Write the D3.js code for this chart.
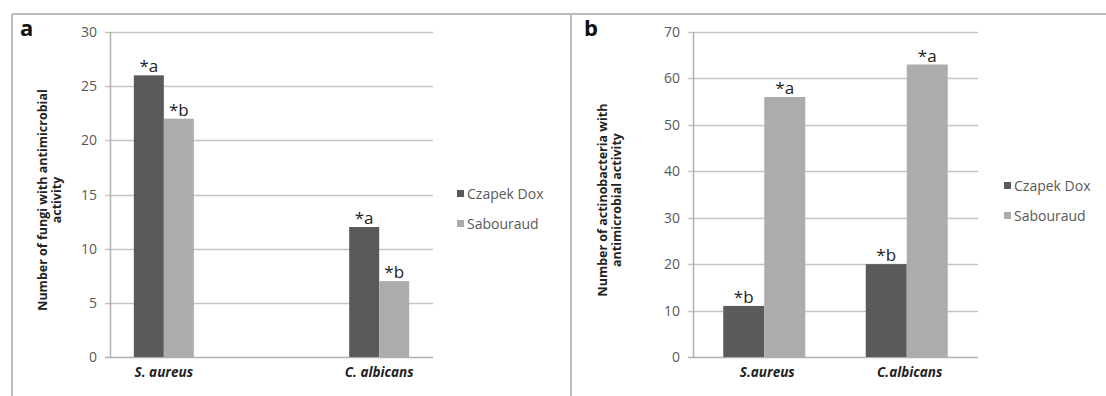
<!DOCTYPE html>
<html>
<head>
<meta charset="utf-8">
<script src="https://cdnjs.cloudflare.com/ajax/libs/d3/7.8.5/d3.min.js"></script>
<style>
  body { margin: 0; background: #fff; }
  text { font-family: "Open Sans", "Liberation Sans", sans-serif; }
</style>
</head>
<body>
<div id="chart"></div>
<script>

// data
var seriesNames = ["Czapek Dox", "Sabouraud"];

var fungiCategories = ["S. aureus", "C. albicans"];
var fungiCzapek = [26, 12];
var fungiSabouraud = [22, 7];
var fungiLetters = [["*a", "*a"], ["*b", "*b"]];
var fungiTicks = [0, 5, 10, 15, 20, 25, 30];

var actinoCategories = ["S.aureus", "C.albicans"];
var actinoCzapek = [11, 20];
var actinoSabouraud = [56, 63];
var actinoLetters = [["*b", "*b"], ["*a", "*a"]];
var actinoTicks = [0, 10, 20, 30, 40, 50, 60, 70];

var colors = ["#5a5a5a", "#acacac"];

var w = 1106;
var h = 396;

var svg = d3.select("#chart")
            .append("svg")
            .attr("width", w)
            .attr("height", h);

svg.append("rect").attr("width", w).attr("height", h).attr("fill", "#fff");

// panel frames
svg.append("line").attr("x1", 12).attr("x2", w).attr("y1", 14).attr("y2", 14)
   .attr("stroke", "#bdbdbd").attr("stroke-width", 2);
svg.append("line").attr("x1", 12).attr("x2", 12).attr("y1", 14).attr("y2", h)
   .attr("stroke", "#bdbdbd").attr("stroke-width", 2);
svg.append("line").attr("x1", 571).attr("x2", 571).attr("y1", 14).attr("y2", h)
   .attr("stroke", "#bdbdbd").attr("stroke-width", 2);

function drawPanel(p) {
    var g = svg.append("g");

    var y = d3.scaleLinear()
              .domain([0, p.ticks[p.ticks.length - 1]])
              .range([357, 32]);

    var x = d3.scalePoint()
              .domain(p.categories)
              .range([p.left, p.right])
              .padding(p.pad);

    var xs = d3.scaleBand()
               .domain(seriesNames)
               .range([-p.barW, p.barW]);

    // gridlines
    g.selectAll(".grid")
     .data(p.ticks)
     .enter()
     .append("line")
     .attr("x1", p.left - 5)
     .attr("x2", p.right)
     .attr("y1", function(d){ return Math.round(y(d)) + 0.5; })
     .attr("y2", function(d){ return Math.round(y(d)) + 0.5; })
     .attr("stroke", function(d){ return d == 0 ? "#b0b0b0" : "#c4c4c4"; })
     .attr("stroke-width", 1.5);

    g.append("line")
     .attr("x1", p.left + 0.5).attr("x2", p.left + 0.5)
     .attr("y1", y(p.ticks[p.ticks.length - 1])).attr("y2", y(0))
     .attr("stroke", "#b0b0b0").attr("stroke-width", 1.5);

    g.selectAll(".tick")
     .data(p.ticks)
     .enter()
     .append("text")
     .attr("x", p.left - 13)
     .attr("y", function(d){ return y(d) + 5; })
     .attr("text-anchor", "end")
     .attr("font-size", 14)
     .attr("fill", "#595959")
     .text(function(d){ return d; });

    // bars
    p.values.forEach(function(vals, si) {
        g.selectAll(".bar" + si)
         .data(vals)
         .enter()
         .append("rect")
         .attr("x", function(d, i){ return x(p.categories[i]) + xs(seriesNames[si]); })
         .attr("width", xs.bandwidth())
         .attr("y", function(d){ return y(d); })
         .attr("height", function(d){ return y(0) - y(d); })
         .attr("fill", colors[si]);

        g.selectAll(".lab" + si)
         .data(vals)
         .enter()
         .append("text")
         .attr("x", function(d, i){ return x(p.categories[i]) + xs(seriesNames[si]) + xs.bandwidth() / 2; })
         .attr("y", function(d){ return y(d) - 3; })
         .attr("text-anchor", "middle")
         .attr("font-family", "Liberation Sans, Arial, sans-serif")
         .attr("font-size", 17)
         .attr("fill", "#222")
         .text(function(d, i){ return p.letters[si][i]; });
    });

    // category labels
    g.selectAll(".cat")
     .data(p.categories)
     .enter()
     .append("text")
     .attr("x", function(d){ return x(d) + p.catShift; })
     .attr("y", 377)
     .attr("text-anchor", "middle")
     .attr("font-size", 13.5)
     .attr("font-weight", "bold")
     .attr("font-style", "italic")
     .attr("fill", "#222")
     .text(function(d){ return d; });

    // y title
    var t = g.append("text")
             .attr("transform", "translate(" + p.titleX + ",200) rotate(-90)")
             .attr("text-anchor", "middle")
             .attr("font-size", 12.5)
             .attr("font-weight", "bold")
             .attr("fill", "#222");
    p.title.forEach(function(line, i) {
        t.append("tspan").attr("x", 0).attr("dy", i == 0 ? 0 : 14).text(line);
    });

    // panel letter
    g.append("text")
     .attr("x", p.letterX)
     .attr("y", 36)
     .attr("font-family", "Liberation Sans, Arial, sans-serif")
     .attr("font-size", 22)
     .attr("font-weight", "bold")
     .attr("fill", "#111")
     .text(p.letter);

    // legend
    seriesNames.forEach(function(s, i) {
        g.append("rect")
         .attr("x", p.legendX)
         .attr("y", p.legendY + i * 30 - 5)
         .attr("width", 7).attr("height", 7)
         .attr("fill", colors[i]);
        g.append("text")
         .attr("x", p.legendX + 10)
         .attr("y", p.legendY + i * 30 + 4)
         .attr("font-size", 14)
         .attr("fill", "#595959")
         .text(s);
    });
}

drawPanel({
    categories: fungiCategories,
    values: [fungiCzapek, fungiSabouraud],
    letters: fungiLetters,
    ticks: fungiTicks,
    left: 110, right: 433, pad: 0.25, barW: 30, catShift: 0,
    title: ["Number of fungi with antimicrobial", "activity"],
    titleX: 47,
    letter: "a", letterX: 20,
    legendX: 457, legendY: 195
});

drawPanel({
    categories: actinoCategories,
    values: [actinoCzapek, actinoSabouraud],
    letters: actinoLetters,
    ticks: actinoTicks,
    left: 693, right: 978, pad: 0.5, barW: 41, catShift: 3,
    title: ["Number of actinobacteria with", "antimicrobial activity"],
    titleX: 607,
    letter: "b", letterX: 584,
    legendX: 1004, legendY: 187
});
</script>
</body>
</html>
